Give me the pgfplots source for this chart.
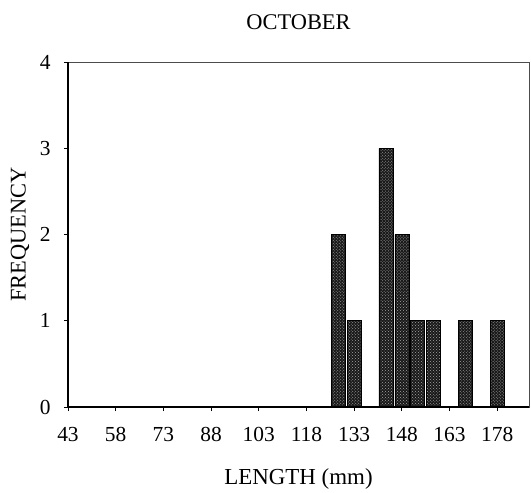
\documentclass[border=0pt]{standalone}
\usepackage{fontspec}
\setmainfont{Liberation Serif}
\usepackage{pgfplots}
\pgfplotsset{compat=1.18}
\usetikzlibrary{patterns}
\begin{document}
\begin{tikzpicture}
  \useasboundingbox (-68bp,-86bp) rectangle (463bp,407bp);
  \begin{axis}[
      at={(0,0)}, anchor=south west,
      scale only axis,
      width=461bp, height=345bp,
      xmin=43, xmax=188, ymin=0, ymax=4,
      xtick={43,58,...,178}, ytick={0,1,2,3,4},
      tick align=outside, major tick length=4bp,
      tick style={black, line width=0.8pt},
      xtick pos=bottom, ytick pos=left,
      /pgf/number format/assume math mode=true,
      tick label style={font=\fontsize{21.5}{23}\selectfont},
      xticklabel style={anchor=base, yshift=-30bp},
      yticklabel style={anchor=east, xshift=-10bp},
      axis line style={black!70, line width=0.6pt},
      title={OCTOBER},
      title style={font=\fontsize{22.5}{24}\selectfont, at={(axis description cs:0.5,1)}, anchor=center, yshift=34bp},
      xlabel={LENGTH (mm)},
      xlabel style={font=\fontsize{23}{24}\selectfont, at={(axis description cs:0.5,0)}, anchor=center, yshift=-72bp},
      ylabel={FREQUENCY},
      ylabel style={font=\fontsize{22.5}{24}\selectfont, at={(axis description cs:0,0.5)}, anchor=center, yshift=48bp},
      clip=false,
    ]
    \addplot[ybar, bar width=4.4, fill=black!90, draw=black, line width=0.6pt,
      postaction={pattern=crosshatch dots, pattern color=gray!70}]
      coordinates {(128,2) (133,1) (143,3) (148,2) (153,1) (158,1) (168,1) (178,1)};
    \draw[black, line width=1.2pt] (axis cs:43,4) -- (axis cs:43,0) -- (axis cs:188,0);
  \end{axis}
\end{tikzpicture}
\end{document}
